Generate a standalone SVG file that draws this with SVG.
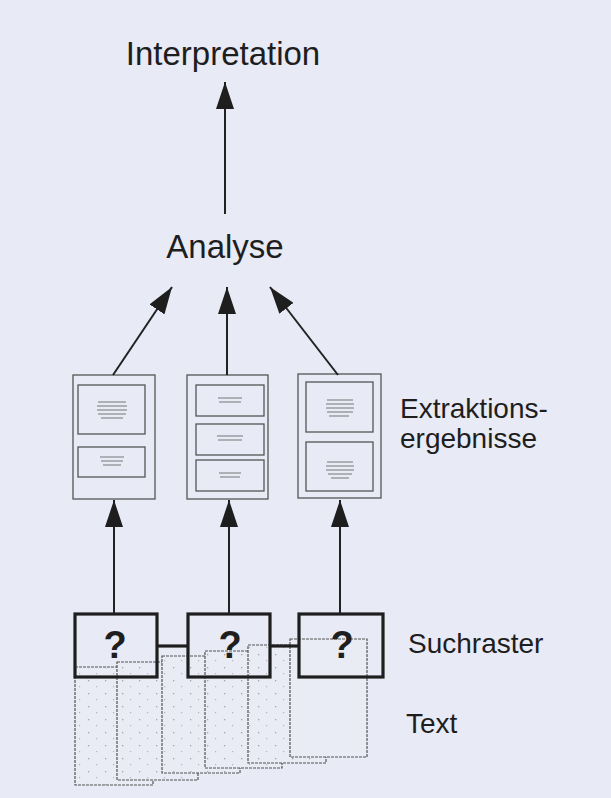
<svg xmlns="http://www.w3.org/2000/svg" width="611" height="798" viewBox="0 0 611 798">
<style>
.lbl{font-family:"Liberation Sans",Arial,sans-serif;fill:#1e1e1e}
.big{font-size:33px}
.side{font-size:28px}
.q{font-family:"Liberation Sans",Arial,sans-serif;font-weight:bold;font-size:38px;fill:#1e1e1e;text-anchor:middle}
.con{stroke:#222;stroke-width:2;fill:none}
.frame{fill:none;stroke:#555;stroke-width:1.3}
.inner{fill:none;stroke:#555;stroke-width:1.3}
.scrib{stroke:#777;stroke-width:1;fill:none}
.page{fill:#e9ebf5;stroke:#555;stroke-width:1.2;stroke-dasharray:3 1}
.raster{fill:none;stroke:#1e1e1e;stroke-width:3.2}
</style>
<defs>
<marker id="ah" viewBox="0 0 27 18" refX="27" refY="9" markerWidth="27" markerHeight="18" markerUnits="userSpaceOnUse" orient="auto">
<path d="M0,0 L27,9 L0,18 z" fill="#1e1e1e"/>
</marker>
<pattern id="dots" width="17" height="13" patternUnits="userSpaceOnUse">
<rect x="3" y="4" width="1.3" height="1.3" fill="#a4a4b0"/>
<rect x="11" y="10" width="1.2" height="1.2" fill="#b4b4c0"/>
</pattern>
</defs>
<rect width="611" height="798" fill="#e8eaf5"/>

<g id="interpretation"><text class="lbl big" x="223" y="65" text-anchor="middle">Interpretation</text></g>
<g id="analyse"><text class="lbl big" x="225" y="258" text-anchor="middle">Analyse</text></g>

<g id="extraktion1">
<rect class="frame" x="73" y="375" width="82" height="124"/>
<rect class="inner" x="78" y="385" width="67" height="49"/>
<rect class="inner" x="78" y="447" width="67" height="30"/>
<path class="scrib" d="M98,402h28M97,406h30M97,410h30M98,414h28M101,418h22M100,457h24M101,461h22M103,465h18"/>
</g>
<g id="extraktion2">
<rect class="frame" x="187" y="375" width="81" height="124"/>
<rect class="inner" x="196" y="385" width="68" height="31"/>
<rect class="inner" x="196" y="424" width="68" height="31"/>
<rect class="inner" x="196" y="460" width="68" height="31"/>
<path class="scrib" d="M218,398h24M219,402h22M217,436h26M218,440h24M219,473h22M220,477h20"/>
</g>
<g id="extraktion3">
<rect class="frame" x="298" y="374" width="83" height="124"/>
<rect class="inner" x="306" y="382" width="67" height="50"/>
<rect class="inner" x="306" y="442" width="67" height="49"/>
<path class="scrib" d="M327,400h26M326,404h28M326,408h28M327,412h26M329,416h20M327,462h26M326,466h28M326,470h28M328,474h24M331,478h18"/>
</g>

<g id="extraktion-label"><text class="lbl side" x="400" y="418">Extraktions-</text><text class="lbl side" x="400" y="448">ergebnisse</text></g>

<g id="text-pages">
<rect class="page" x="75" y="667" width="78" height="118"/>
<rect x="75" y="667" width="78" height="118" fill="url(#dots)"/>
<rect class="page" x="117" y="662" width="81" height="118"/>
<rect x="117" y="662" width="81" height="118" fill="url(#dots)"/>
<rect class="page" x="162" y="656" width="78" height="117"/>
<rect x="162" y="656" width="78" height="117" fill="url(#dots)"/>
<rect class="page" x="205" y="651" width="77" height="117"/>
<rect x="205" y="651" width="77" height="117" fill="url(#dots)"/>
<rect class="page" x="248" y="645" width="78" height="118"/>
<rect x="248" y="645" width="78" height="118" fill="url(#dots)"/>
<rect class="page" x="290" y="639" width="77" height="118"/>
</g>

<g id="suchraster1"><rect class="raster" x="75" y="614" width="82" height="63"/><text class="q" x="115" y="658">?</text></g>
<g id="suchraster2"><rect class="raster" x="188" y="614" width="82" height="63"/><text class="q" x="230" y="658">?</text></g>
<g id="suchraster3"><rect class="raster" x="299" y="614" width="84" height="63"/><text class="q" x="342" y="658">?</text></g>

<g id="suchraster-label"><text class="lbl side" x="408" y="653">Suchraster</text></g>
<g id="text-label"><text class="lbl side" x="406" y="733">Text</text></g>

<g id="connectors">
<line class="raster" x1="157" y1="646" x2="188" y2="646"/>
<line class="raster" x1="270" y1="646" x2="299" y2="646"/>
<line class="con" x1="225" y1="214" x2="225" y2="82" marker-end="url(#ah)"/>
<line class="con" x1="113" y1="375" x2="172" y2="287" marker-end="url(#ah)"/>
<line class="con" x1="227" y1="375" x2="227" y2="287" marker-end="url(#ah)"/>
<line class="con" x1="338" y1="375" x2="270" y2="287" marker-end="url(#ah)"/>
<line class="con" x1="114" y1="614" x2="114" y2="500" marker-end="url(#ah)"/>
<line class="con" x1="229" y1="614" x2="229" y2="500" marker-end="url(#ah)"/>
<line class="con" x1="340" y1="614" x2="340" y2="500" marker-end="url(#ah)"/>
</g>
</svg>
